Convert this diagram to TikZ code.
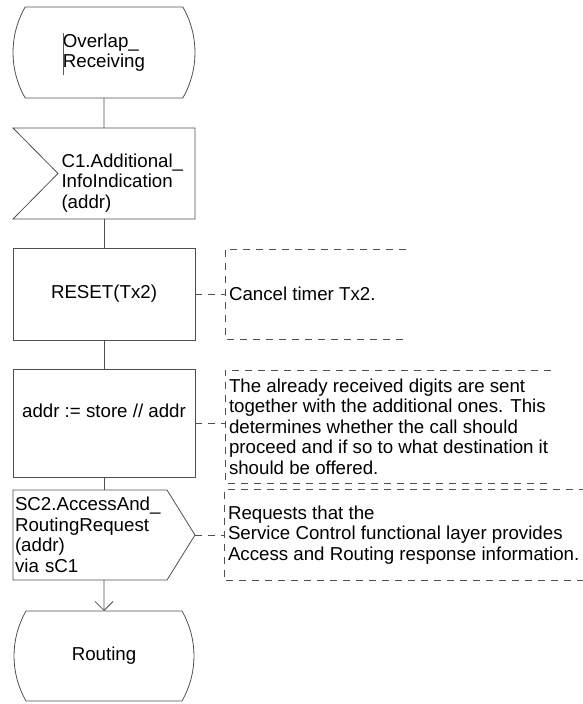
\documentclass[tikz,border=0pt]{standalone}
\usepackage{fontspec}
\setmainfont{Liberation Sans}
\usetikzlibrary{arrows.meta,positioning,calc,shapes.misc}
\definecolor{sdlline}{RGB}{80,80,80}
\definecolor{cursorblue}{RGB}{70,70,230}

\begin{document}
\begin{tikzpicture}[x=1pt,y=1pt,
  every node/.style={font=\fontsize{18.7}{20.5}\selectfont,align=center,outer sep=0pt,inner sep=2pt},
  line/.style={draw=sdlline,line width=0.8pt},
  statebox/.style={line,rounded rectangle,rounded rectangle arc length=60,minimum width=182pt,minimum height=91pt},
  taskbox/.style={line,rectangle,minimum width=182pt},
  inbox/.style={rectangle,align=left,text width=122pt,minimum width=145pt,minimum height=91pt},
  outbox/.style={rectangle,align=left,text width=150pt,minimum height=90pt},
  notebox/.style={rectangle,align=left,inner sep=4pt},
  note/.style={line,dash pattern=on 7pt off 6pt},
  flow/.style={line}]
\useasboundingbox (0,0) rectangle (583,-704);
% process flow
\node[statebox,align=left] (overlap) at (104,-52.5) {Overlap\_\\Receiving};
\node[inbox,below=30pt of overlap,xshift=18.5pt] (addinfo) {C1.Additional\_\rule{0pt}{32pt}\\InfoIndication\\(addr)};
\draw[line] ([xshift=-37pt]addinfo.north west) -- (addinfo.north east) -- (addinfo.south east)
  -- ([xshift=-37pt]addinfo.south west) -- ([xshift=8pt]addinfo.west) -- cycle;
\node[taskbox,minimum height=92pt,below=29pt of addinfo,xshift=-18.5pt] (reset) {RESET(Tx2)};
\node[taskbox,minimum height=108pt,text height=13.5pt,text depth=24pt,below=29pt of reset] (store) {addr := store // addr};
\node[outbox,below=13pt of store,xshift=-14pt] (request) {SC2.AccessAnd\_\\RoutingRequest\\(addr)\\via sC1};
\coordinate (requestpt) at ([xshift=28pt]request.east);
\draw[line] (request.north west) -- (request.north east) -- (requestpt) -- (request.south east)
  -- (request.south west) -- cycle;
\node[statebox,minimum height=90pt,below=31pt of request,xshift=14pt] (routing) {Routing};
\draw[cursorblue,line width=1pt] ($(overlap.center)+(-41,19.5)$) -- ++(0,-42);
\draw[flow] (overlap) -- (overlap.south |- addinfo.north);
\draw[flow] (overlap.south |- addinfo.south) -- (reset);
\draw[flow] (reset) -- (store);
\draw[flow] (store) -- (store.south |- request.north);
\draw[flow,-{Straight Barb[length=9pt,width=18pt]}] (routing.north |- request.south) -- (routing);
% comments
\node[notebox,minimum height=90pt,right=30pt of reset] (cmtreset) {Cancel timer Tx2.};
\node[notebox,minimum height=113pt,right=30pt of store,yshift=-3.5pt] (cmtstore) {The already received digits are sent\\together with the additional ones. This\\determines whether the call should\\proceed and if so to what destination it\\should be offered.};
\node[notebox,minimum height=91pt,right=29pt of requestpt] (cmtrequest) {Requests that the\\Service Control functional layer provides\\Access and Routing response information.};
\foreach \c/\l in {cmtreset/181,cmtstore/326,cmtrequest/362}
  \draw[note] ([xshift=\l pt]\c.north west) -- (\c.north west) -- (\c.south west) -- ([xshift=\l pt]\c.south west);
\draw[note] (reset.east) -- (reset.east -| cmtreset.west);
\draw[note] (store.east) -- (store.east -| cmtstore.west);
\draw[note] (requestpt) -- (requestpt -| cmtrequest.west);
\end{tikzpicture}
\end{document}
